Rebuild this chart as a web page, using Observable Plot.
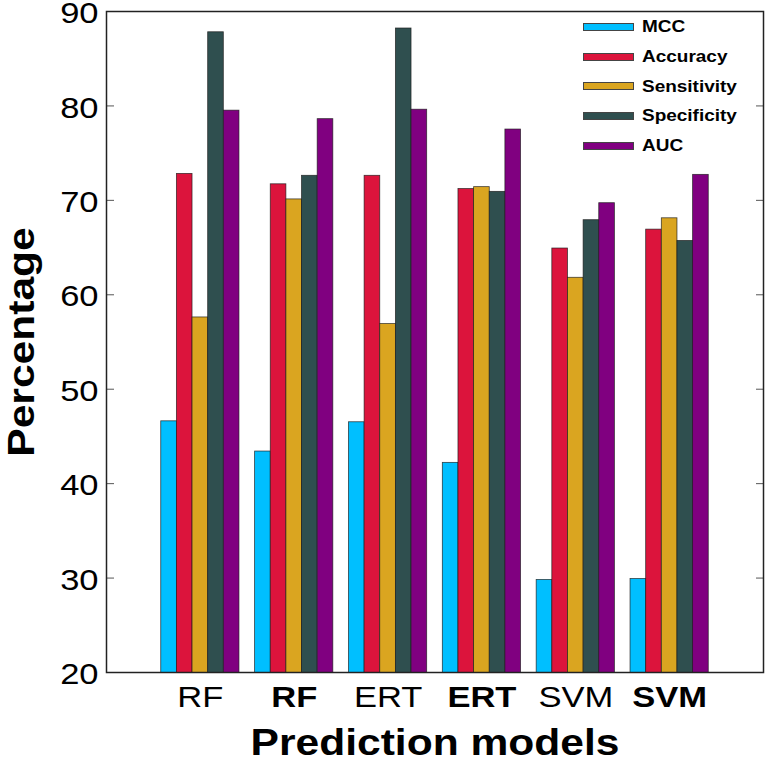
<!DOCTYPE html>
<html><head><meta charset="utf-8">
<script src="https://cdn.jsdelivr.net/npm/d3@7"></script>
<script src="https://cdn.jsdelivr.net/npm/@observablehq/plot@0.6"></script>
<style>
body{margin:0;background:#fff;}
#wrap{position:relative;width:768px;height:761px;font-family:"Liberation Sans",Arial,sans-serif;}
#legend{position:absolute;left:583px;top:12px;}
.row{display:flex;align-items:center;height:29.7px;}
.sw{width:51px;height:8px;border:1px solid #444;box-sizing:border-box;margin-right:8px;}
.lab{font-weight:bold;font-size:16.5px;transform:scaleX(1.15);transform-origin:left center;white-space:nowrap;}
</style></head><body><div id="wrap"></div>
<script>
const models = ["RF","RF_b","ERT","ERT_b","SVM","SVM_b"];
const modelLabels = ["RF","RF","ERT","ERT","SVM","SVM"];
const boldModels = [false,true,false,true,false,true];
const metrics = ["MCC","Accuracy","Sensitivity","Specificity","AUC"];
const colors = ["#00BFFF","#DC143C","#DAA520","#2F4F4F","#800080"];
const mcc = [46.6,43.4,46.5,42.2,29.8,29.9];
const accuracy = [72.8,71.7,72.6,71.2,64.9,66.9];
const sensitivity = [57.6,70.1,56.9,71.4,61.8,68.1];
const specificity = [87.8,72.6,88.2,70.9,67.9,65.7];
const auc = [79.5,78.6,79.6,77.5,69.7,72.7];
const yTicks = [20,30,40,50,60,70,80,90];

const series = [mcc, accuracy, sensitivity, specificity, auc];
const rows = [];
models.forEach((m, i) => metrics.forEach((k, j) => rows.push({model: m, metric: k, value: series[j][i], key: m + "|" + k})));
const xDomain = [];
models.forEach((m, i) => {
  metrics.forEach(k => xDomain.push(m + "|" + k));
  if (i < models.length - 1) xDomain.push("gap" + i);
});
const centerKeys = models.map(m => m + "|" + metrics[2]);
const labelOf = new Map(centerKeys.map((k, i) => [k, modelLabels[i]]));

const chart = Plot.plot({
  width: 768, height: 761,
  marginLeft: 106, marginRight: 5, marginTop: 11, marginBottom: 89,
  style: {fontFamily: "Liberation Sans, Arial, sans-serif", background: "white", color: "black", overflow: "visible"},
  x: {type: "band", domain: xDomain, paddingInner: 0, paddingOuter: 3.5, round: false, align: 0.5},
  y: {domain: [20, 90]},
  color: {domain: metrics, range: colors},
  marks: [
    Plot.barY(rows, {x: "key", y: "value", fill: "metric", stroke: "#1a1a1a", strokeWidth: 0.8, strokeOpacity: 0.8, clip: true}),
    Plot.axisY({ticks: yTicks, anchor: "left", tickSize: -8, fill: "none", stroke: "#555"}),
    Plot.axisY({ticks: yTicks, anchor: "right", tickSize: -8, fill: "none", stroke: "#555"}),
    Plot.axisY({ticks: yTicks, anchor: "left", tickSize: 0, tickPadding: 8, fontSize: 30, dy: 2, label: "Percentage", labelArrow: false, labelAnchor: "center", labelOffset: 99}),
    Plot.axisX({ticks: centerKeys, anchor: "bottom", tickSize: 0, tickPadding: 13, fontSize: 30, tickFormat: k => labelOf.get(k), label: "Prediction models", labelArrow: false, labelAnchor: "center", labelOffset: 82}),
    Plot.frame({stroke: "#222", strokeWidth: 1.5})
  ]
});
const wrap = document.getElementById("wrap");
wrap.appendChild(chart);

chart.querySelectorAll('g[aria-label="y-axis label"] text, g[aria-label="x-axis label"] text').forEach(t => {
  t.setAttribute("font-size", "37");
  t.setAttribute("font-weight", "bold");
});
chart.querySelectorAll('g[aria-label="x-axis tick label"] text').forEach((t, i) => {
  if (boldModels[i]) t.setAttribute("font-weight", "bold");
});
function stretch(el, f) {
  const w = el.getComputedTextLength();
  el.setAttribute("textLength", w * f);
  el.setAttribute("lengthAdjust", "spacingAndGlyphs");
}
chart.querySelectorAll('g[aria-label="y-axis tick label"] text, g[aria-label="x-axis tick label"] text').forEach(t => stretch(t, 1.15));
chart.querySelectorAll('g[aria-label="y-axis label"] text, g[aria-label="x-axis label"] text').forEach(t => stretch(t, 1.15));

const legend = document.createElement("div");
legend.id = "legend";
metrics.forEach((m, i) => {
  const r = document.createElement("div"); r.className = "row";
  const s = document.createElement("div"); s.className = "sw"; s.style.background = colors[i];
  const l = document.createElement("span"); l.className = "lab"; l.textContent = m;
  r.appendChild(s); r.appendChild(l); legend.appendChild(r);
});
wrap.appendChild(legend);
</script></body></html>
